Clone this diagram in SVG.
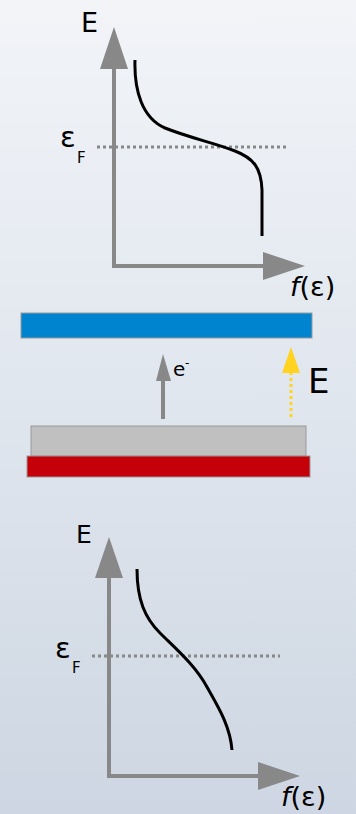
<svg xmlns="http://www.w3.org/2000/svg" width="356" height="814" viewBox="0 0 356 814">
<defs>
<linearGradient id="bg" x1="0" y1="0" x2="0" y2="1">
<stop offset="0" stop-color="#F2F4F8"/>
<stop offset="0.5" stop-color="#E0E6EE"/>
<stop offset="1" stop-color="#CDD6E2"/>
</linearGradient>
</defs>
<style>
.axis{stroke:#888;stroke-width:4;fill:none}
.head{fill:#888}
.curve{stroke:#000;stroke-width:3;fill:none}
.dot{stroke:#888;stroke-width:3;stroke-dasharray:3 3;fill:none}
.t{font-family:"DejaVu Sans",sans-serif;fill:#000}
</style>
<rect width="356" height="814" fill="url(#bg)"/>

<g id="plot-top">
<line class="axis" x1="114" y1="266" x2="114" y2="66"/>
<polygon class="head" points="114,27 100,69 128,69"/>
<line class="axis" x1="112" y1="266" x2="266" y2="266"/>
<polygon class="head" points="305,266 263,252 263,280"/>
<line class="dot" x1="97" y1="147" x2="287" y2="147"/>
<path class="curve" d="M135,60 C134,90 142,118 165,128 C190,138 215,143 235,151 C253,158 261,167 262,190 L262,236"/>
<text class="t" x="81" y="32" font-size="27">E</text>
<text class="t" x="60" y="147" font-size="29">ε</text>
<text class="t" x="77" y="163" font-size="15">F</text>
<text class="t" x="290" y="296" font-size="27"><tspan font-style="italic">f</tspan>(ε)</text>
</g>

<g id="plates">
<rect x="21" y="313" width="291" height="25" fill="#0084D0" stroke="#999" stroke-width="1"/>
<rect x="31" y="426" width="275" height="30" fill="#C0C0C0" stroke="#999" stroke-width="1"/>
<rect x="27" y="456" width="283" height="21" fill="#C50008" stroke="#999" stroke-width="1"/>
</g>

<g id="connectors">
<line x1="163" y1="419" x2="163" y2="378" stroke="#888" stroke-width="4"/>
<polygon points="163,354 156,381 171,381" fill="#888"/>
<line x1="291" y1="417" x2="291" y2="373" stroke="#FFD320" stroke-width="3" stroke-dasharray="3 3"/>
<polygon points="291,347 282,373 300,373" fill="#FFD320"/>
</g>
<g id="labels-mid">
<text class="t" x="173" y="376" font-size="20">e</text>
<text class="t" x="185" y="367" font-size="12">-</text>
<text class="t" x="308" y="393" font-size="34">E</text>
</g>

<g id="plot-bottom">
<line class="axis" x1="109" y1="776" x2="109" y2="575"/>
<polygon class="head" points="109,537 95,578 123,578"/>
<line class="axis" x1="107" y1="776" x2="260" y2="776"/>
<polygon class="head" points="300,776 258,762 258,790"/>
<line class="dot" x1="92" y1="656" x2="280" y2="656"/>
<path class="curve" d="M137,569 C137,600 145,618 160,633 C175,648 195,665 207,687 C217,705 230,725 232,750"/>
<text class="t" x="76" y="543" font-size="25">E</text>
<text class="t" x="55" y="658" font-size="29">ε</text>
<text class="t" x="72" y="673" font-size="15">F</text>
<text class="t" x="281" y="806" font-size="27"><tspan font-style="italic">f</tspan>(ε)</text>
</g>
</svg>
